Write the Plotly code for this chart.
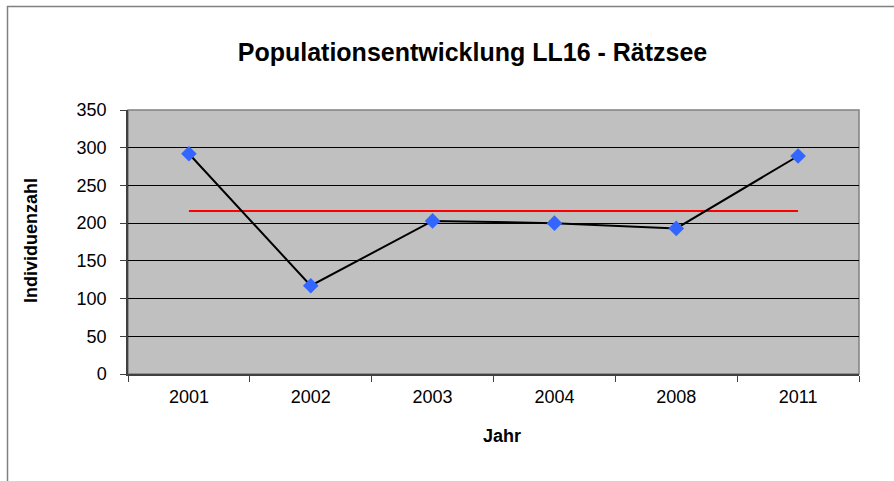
import plotly.graph_objects as go

jahre = ["2001", "2002", "2003", "2004", "2008", "2011"]
individuen = [292, 117, 203, 200, 193, 289]
mittelwert = [216, 216, 216, 216, 216, 216]
y_ticks = [0, 50, 100, 150, 200, 250, 300, 350]

W, H = 894, 481
L, R, T, B = 128, 35, 110, 107
pw, ph = W - L - R, H - T - B

def px_x(x):
    return (x - L) / pw

def px_y(y):
    return (H - B - y) / ph

FONT = "Liberation Sans, Arial, sans-serif"

fig = go.Figure()
fig.add_trace(go.Scatter(
    x=jahre, y=mittelwert, mode="lines",
    line=dict(color="#FF0000", width=2), hoverinfo="skip", showlegend=False))
fig.add_trace(go.Scatter(
    x=jahre, y=individuen, mode="lines+markers",
    line=dict(color="#000000", width=2),
    marker=dict(symbol="diamond", size=12, color="#3366FF", line=dict(width=0)),
    showlegend=False))

fig.update_layout(
    width=W, height=H,
    margin=dict(l=L, r=R, t=T, b=B, pad=0),
    paper_bgcolor="white",
    plot_bgcolor="#C0C0C0",
    font=dict(family=FONT, size=18, color="black"),
    title=dict(text="<b>Populationsentwicklung LL16 - Rätzsee</b>",
               x=472.5 / W, xref="container", xanchor="center",
               y=1 - 52 / H, yref="container", yanchor="middle",
               font=dict(family=FONT, size=25, color="black")),
    xaxis=dict(type="category", range=[-0.5, 5.5], tickson="boundaries",
               ticks="outside", ticklen=6, tickcolor="#404040", tickwidth=1,
               showline=True, linecolor="#404040", linewidth=1.5,
               showgrid=False, zeroline=False, ticklabelstandoff=6,
               tickfont=dict(family=FONT, size=18, color="black")),
    yaxis=dict(range=[0, 350], tickvals=y_ticks,
               ticks="outside", ticklen=6, tickcolor="#404040", tickwidth=1,
               showline=True, linecolor="#404040", linewidth=1.5,
               showgrid=True, gridcolor="#000000", gridwidth=1,
               zeroline=False, ticklabelstandoff=10,
               tickfont=dict(family=FONT, size=18, color="black")),
    shapes=[
        dict(type="rect", xref="paper", yref="paper", x0=0, x1=1, y0=0, y1=1,
             line=dict(color="#808080", width=1.5), fillcolor="rgba(0,0,0,0)",
             layer="below"),
        dict(type="rect", xref="paper", yref="paper",
             x0=px_x(7.5), x1=px_x(W + 20), y0=px_y(H + 20), y1=px_y(6.5),
             line=dict(color="#808080", width=1.5), fillcolor="rgba(0,0,0,0)"),
    ],
    annotations=[
        dict(text="<b>Individuenzahl</b>", xref="paper", yref="paper",
             x=px_x(31), y=px_y(240), textangle=-90, showarrow=False,
             xanchor="center", yanchor="middle",
             font=dict(family=FONT, size=18, color="black")),
        dict(text="<b>Jahr</b>", xref="paper", yref="paper",
             x=px_x(502), y=px_y(436), showarrow=False,
             xanchor="center", yanchor="middle",
             font=dict(family=FONT, size=18, color="black")),
    ],
)

fig.write_html("out.html",
               config={"displayModeBar": False},
               post_script="document.body.style.margin='0';document.body.style.overflow='hidden';")
